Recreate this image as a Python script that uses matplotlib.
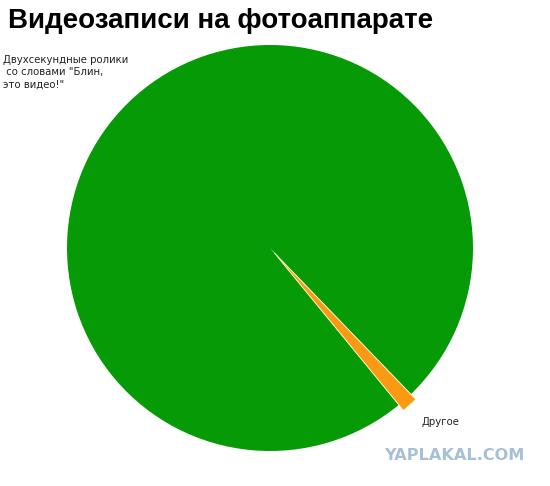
import matplotlib
matplotlib.use("Agg")
import matplotlib.pyplot as plt

title = "Видеозаписи на фотоаппарате"
categories = ['Двухсекундные ролики\n со словами "Блин,\nэто видео!"', "Другое"]
values = [98.7, 1.3]
colors = ["#069a06", "#fb9a12"]
explode = [0.0, 0.035]
watermark = "YAPLAKAL.COM"

W, H = 550, 486
fig = plt.figure(figsize=(W / 100, H / 100), dpi=100)
fig.patch.set_facecolor("white")

cx, cy, r = 270, 248, 203
lim = 1.2
half = r * lim
ax = fig.add_axes([(cx - half) / W, (H - cy - half) / H, 2 * half / W, 2 * half / H])
wedges, _ = ax.pie(values, colors=colors, explode=explode, startangle=-46.0,
                   counterclock=True, radius=1.0,
                   wedgeprops=dict(linewidth=0))
wedges[1].set_edgecolor("#f4f7c8")
wedges[1].set_linewidth(0.6)
ax.set_xlim(-lim, lim)
ax.set_ylim(-lim, lim)
ax.set_aspect("equal")
ax.axis("off")

fig.text(8 / W, 1 - 21 / H, title, fontsize=20, fontweight="bold",
         family="Liberation Sans", va="center", ha="left", color="#000000")
fig.text(3 / W, 1 - 55 / H, categories[0], fontsize=7.3, family="DejaVu Sans",
         va="top", ha="left", color="#222222", linespacing=1.3)
fig.text(421 / W, 1 - 422 / H, categories[1], fontsize=7.3, family="DejaVu Sans",
         va="center", ha="left", color="#222222")
fig.text(524 / W, 1 - 456 / H, watermark, fontsize=11.6, fontweight="heavy",
         family="DejaVu Sans", va="center", ha="right", color="#a7c0d6")

fig.savefig("out.png", dpi=100, facecolor="white")
